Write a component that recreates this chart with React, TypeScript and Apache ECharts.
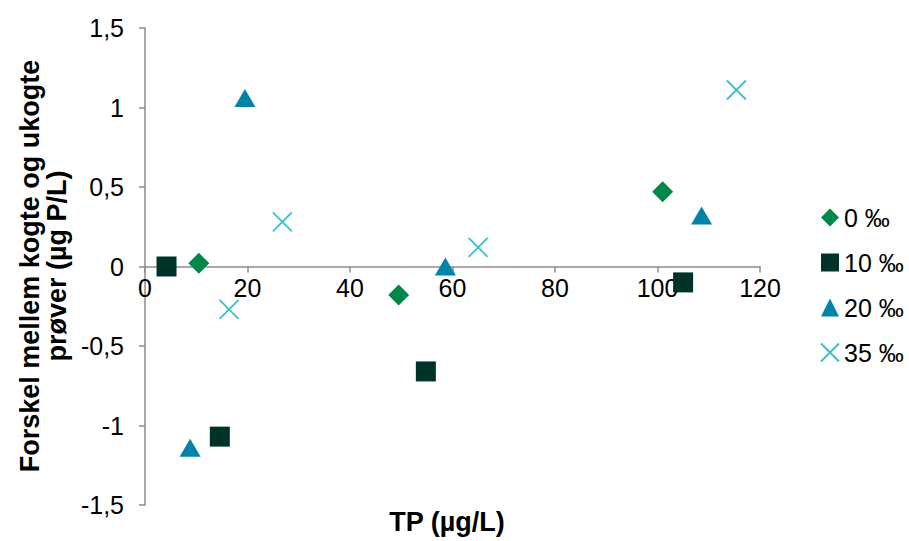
import React, { useEffect, useRef } from "react";
import * as echarts from "echarts";

const seriesNames = ["0 ‰", "10 ‰", "20 ‰", "35 ‰"];
const s0: number[][] = [[10.5, 0.02], [49.5, -0.18], [101, 0.47]];
const s10: number[][] = [[4.2, 0.0], [14.6, -1.07], [54.8, -0.66], [105, -0.1]];
const s20: number[][] = [[8.8, -1.14], [19.5, 1.06], [58.6, 0.0], [108.6, 0.32]];
const s35: number[][] = [[16.4, -0.27], [26.8, 0.28], [65, 0.12], [115.4, 1.11]];
const xTitle = "TP (µg/L)";
const yTitle = "Forskel mellem kogte og ukogte\nprøver (µg P/L)";

const FONT = "Liberation Sans, Arial, sans-serif";
const CROSS = "path://M0,0L10,10M10,0L0,10";
const AXIS_GRAY = "#8c8c8c";

export default function App() {
  const ref = useRef<HTMLDivElement>(null);
  useEffect(() => {
    const chart = echarts.init(ref.current!, null, { renderer: "svg" });
    const gridTop = 28;
    const gridBottom = 36;
    const gridHeight = 541 - gridTop - gridBottom;
    chart.setOption({
      animation: false,
      backgroundColor: "#ffffff",
      textStyle: { fontFamily: FONT },
      grid: { left: 145, right: 149, top: gridTop, bottom: gridBottom, containLabel: false },
      xAxis: {
        type: "value",
        min: 0,
        max: 120,
        interval: 20,
        position: "bottom",
        offset: -gridHeight / 2,
        axisLine: { onZero: false, lineStyle: { color: AXIS_GRAY, width: 1.5 } },
        axisTick: { show: true, length: 6, lineStyle: { color: AXIS_GRAY, width: 1.5 } },
        axisLabel: { color: "#000", fontSize: 25, fontFamily: FONT, margin: 9 },
        splitLine: { show: false },
      },
      yAxis: {
        type: "value",
        min: -1.5,
        max: 1.5,
        interval: 0.5,
        axisLine: { show: true, onZero: false, lineStyle: { color: AXIS_GRAY, width: 1.5 } },
        axisTick: { show: true, length: 6, lineStyle: { color: AXIS_GRAY, width: 1.5 } },
        axisLabel: {
          color: "#000",
          fontSize: 25,
          fontFamily: FONT,
          margin: 21,
          formatter: (v: number) => String(v).replace(".", ","),
        },
        splitLine: { show: false },
      },
      legend: {
        orient: "vertical",
        left: 815,
        top: 200,
        itemWidth: 18,
        itemHeight: 18,
        itemGap: 20,
        textStyle: { fontSize: 25, color: "#000", fontFamily: FONT },
        data: seriesNames,
      },
      graphic: [
        {
          type: "text",
          x: 43,
          y: 266,
          rotation: Math.PI / 2,
          style: {
            text: yTitle,
            font: `bold 27px ${FONT}`,
            fill: "#000",
            align: "center",
            verticalAlign: "middle",
            lineHeight: 27,
          },
        },
        {
          type: "text",
          x: 447,
          y: 522,
          style: {
            text: xTitle,
            font: `bold 27px ${FONT}`,
            fill: "#000",
            align: "center",
            verticalAlign: "middle",
          },
        },
      ],
      series: [
        {
          name: seriesNames[0],
          type: "scatter",
          symbol: "diamond",
          symbolSize: [21, 21],
          itemStyle: { color: "#00884B", opacity: 1 },
          data: s0,
        },
        {
          name: seriesNames[1],
          type: "scatter",
          symbol: "rect",
          symbolSize: 20,
          itemStyle: { color: "#003328", opacity: 1 },
          data: s10,
        },
        {
          name: seriesNames[2],
          type: "scatter",
          symbol: "triangle",
          symbolSize: [21, 18],
          itemStyle: { color: "#0084AC", opacity: 1 },
          data: s20,
        },
        {
          name: seriesNames[3],
          type: "scatter",
          symbol: CROSS,
          symbolSize: 19,
          itemStyle: { color: "rgba(0,0,0,0)", borderColor: "#3CC0CB", borderWidth: 1.8, opacity: 1 },
          data: s35,
        },
      ],
    });
    return () => chart.dispose();
  }, []);
  return <div ref={ref} style={{ width: 909, height: 541, position: "absolute", left: 0, top: 0 }} />;
}
